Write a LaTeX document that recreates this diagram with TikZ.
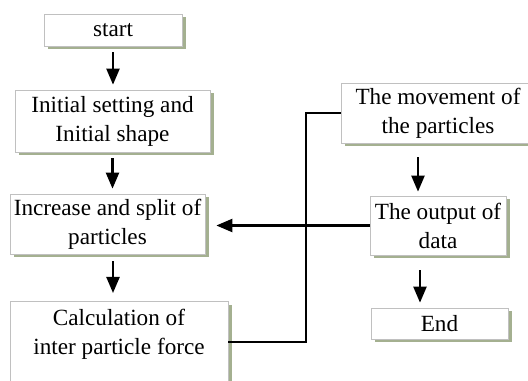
\documentclass[tikz,border=0pt]{standalone}
\usepackage{fontspec}
\setmainfont{Liberation Serif}
\usetikzlibrary{arrows.meta, positioning}
\definecolor{boxline}{RGB}{192, 192, 192}
\definecolor{sagecolor}{RGB}{164, 176, 144}

\tikzset{
    stepbox/.style={draw=boxline, line width=0.4pt, fill=white, align=center,
        inner sep=0pt, font=\fontsize{13.2}{16.5}\selectfont,
        preaction={fill=sagecolor, draw=none, transform canvas={shift={(0.07cm,-0.07cm)}}}},
    flow/.style={line width=1.3pt, -{Triangle[length=0.32cm, width=0.26cm]},
        shorten <=0.12cm, shorten >=0.1cm},
    link/.style={line width=1.3pt}
}

\begin{document}
\begin{tikzpicture}

    \useasboundingbox (0,0) rectangle (10.56,7.62);

    % --- left column ---
    \node[stepbox, minimum width=2.76cm, minimum height=0.64cm] (start) at (2.26, 7.02) {start};
    \node[stepbox, minimum width=3.9cm, minimum height=1.24cm] (init) at (2.25, 5.20) {Initial setting and\\Initial shape};
    \node[stepbox, minimum width=3.9cm, minimum height=1.2cm] (incr) at (2.15, 3.14) {Increase and split of\\particles};
    \node[stepbox, minimum width=4.36cm, inner ysep=0.16cm, text depth=1.18cm, anchor=north] (calc) at (2.38, 1.60) {Calculation of\\inter particle force};

    % --- right column ---
    \node[stepbox, minimum width=3.88cm, minimum height=1.2cm] (move) at (8.76, 5.36) {The movement of\\the particles};
    \node[stepbox, minimum width=2.72cm, minimum height=1.18cm] (out) at (8.76, 3.11) {The output of\\data};
    \node[stepbox, minimum width=2.74cm, minimum height=0.62cm] (end) at (8.79, 1.15) {End};

    % --- connectors ---
    \draw[flow] (start.south) -- (start.south |- init.north);
    \draw[flow] (init.south) -- (init.south |- incr.north);
    \draw[flow, shorten <=0.14cm, shorten >=0.16cm] ([xshift=0.11cm]incr.south) -- ([xshift=0.11cm]incr.south |- calc.north);
    \draw[flow, shorten <=0.28cm, shorten >=0.08cm] ([xshift=-0.4cm]move.south) -- ([xshift=-0.4cm]move.south |- out.north);
    \draw[flow, shorten <=0.3cm] ([xshift=-0.36cm]out.south) -- ([xshift=-0.36cm]out.south |- end.north);
    \draw[flow, shorten <=0pt, shorten >=0.22cm] (out.west) -- (out.west -| incr.east);
    \draw[link] (move.west) -- ++(-0.7,0) coordinate (turn) |- ([yshift=-0.82cm]calc.north east);

\end{tikzpicture}
\end{document}
